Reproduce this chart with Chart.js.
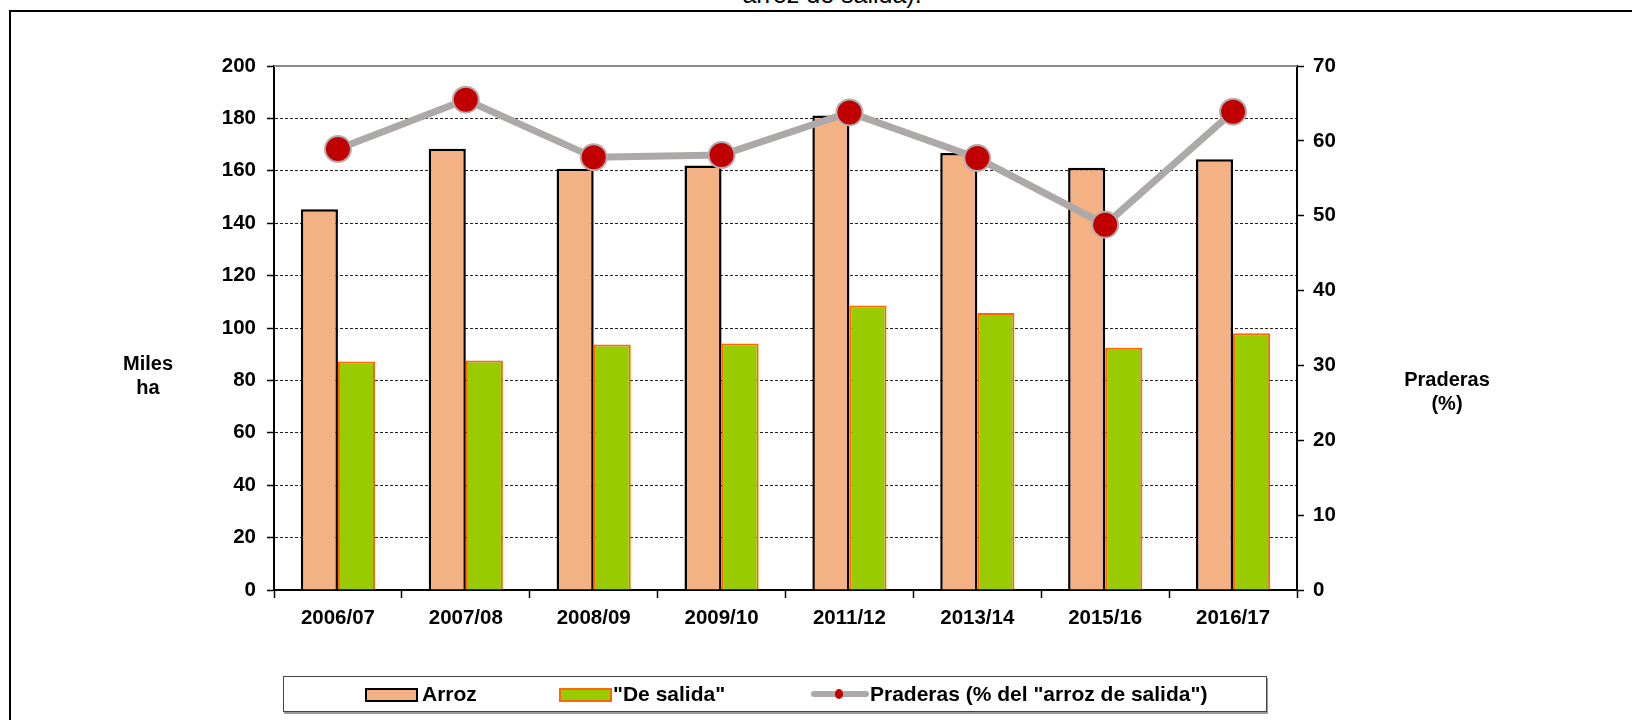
<!DOCTYPE html>
<html>
<head>
<meta charset="utf-8">
<script src="https://cdn.jsdelivr.net/npm/chart.js@4.4.1/dist/chart.umd.min.js"></script>
<style>
  body { margin: 0; background: #fff; font-family: "Liberation Sans", Arial, sans-serif; }
  #wrap { position: relative; width: 1632px; height: 720px; overflow: hidden; }
  #frame { position: absolute; left: 9px; top: 10px; width: 1700px; height: 800px; border-left: 2px solid #000; border-top: 2px solid #000; }
  #title { position: absolute; left: 0; width: 1664px; top: -18px; text-align: center; font-size: 25px; line-height: 25px; color: #000; }
  canvas { position: absolute; left: 0; top: 0; }
  .atitle { position: absolute; font-weight: bold; font-size: 20px; line-height: 24px; text-align: center; color: #000; }
  #legend { position: absolute; left: 283px; top: 676px; width: 982px; height: 34px; border: 1px solid #444; box-shadow: 1px 2px 0 #999; background: #fff; }
  .lg { position: absolute; top: 0; height: 34px; line-height: 34px; font-weight: bold; font-size: 21px; color: #000; }
  .sw { position: absolute; top: 11px; height: 10px; }
</style>
</head>
<body>
<div id="wrap">
  <div id="frame"></div>
  <div id="title">arroz de salida).</div>
  <canvas id="chart" width="1632" height="720"></canvas>
  <div class="atitle" style="left:98px; top:351px; width:100px;">Miles<br>ha</div>
  <div class="atitle" style="left:1387px; top:367px; width:120px;">Praderas<br>(%)</div>
  <div id="legend"></div>
</div>
<script>
let campaigns = ["2006/07", "2007/08", "2008/09", "2009/10", "2011/12", "2013/14", "2015/16", "2016/17"]
let arroz = [145.3, 168.4, 160.8, 162.0, 181.1, 166.8, 161.2, 164.4]
let de_salida = [87.2, 87.6, 93.7, 94.1, 108.6, 105.7, 92.5, 98.0]
let praderas = [58.9, 65.5, 57.8, 58.1, 63.8, 57.7, 48.8, 63.9]
let left_ticks = [0, 200, 20]
let right_ticks = [0, 70, 10]

let font = { family: "'Liberation Sans', Arial, sans-serif", size: 20.5, weight: 'bold' }

// solid grey line along the top of the plot area
let topLine = {
    id: 'topLine',
    beforeDatasetsDraw(chart) {
        let a = chart.chartArea
        let ctx = chart.ctx
        ctx.save()
        ctx.strokeStyle = '#8a8a8a'
        ctx.lineWidth = 2
        ctx.beginPath()
        ctx.moveTo(a.left, a.top)
        ctx.lineTo(a.right, a.top)
        ctx.stroke()
        ctx.restore()
    }
}

let chart = new Chart(document.getElementById("chart").getContext('2d'), {
    type: 'bar',
    data: {
        labels: campaigns,
        datasets: [{
            label: 'Arroz',
            data: arroz,
            backgroundColor: '#F4B183',
            borderColor: '#000000',
            borderWidth: 2.5,
            order: 1,
            yAxisID: 'y'
        }, {
            label: '"De salida"',
            data: de_salida,
            backgroundColor: '#99CC00',
            borderColor: '#FF6600',
            borderWidth: 2,
            order: 2,
            yAxisID: 'y'
        }, {
            type: 'line',
            label: 'Praderas (% del "arroz de salida")',
            data: praderas,
            borderColor: '#ADA9A9',
            borderWidth: 7,
            pointBackgroundColor: '#C00000',
            pointBorderColor: '#B5ADAD',
            pointBorderWidth: 2,
            pointRadius: 13,
            tension: 0,
            order: 0,
            yAxisID: 'y1'
        }]
    },
    options: {
        responsive: false,
        animation: false,
        layout: { padding: { top: 66, left: 0, right: 0, bottom: 0 } },
        datasets: { bar: { categoryPercentage: 0.58, barPercentage: 1 } },
        plugins: { legend: { display: false }, tooltip: { enabled: false } },
        scales: {
            x: {
                ticks: { font: font, color: '#000', padding: 8, maxRotation: 0 },
                grid: { drawOnChartArea: false, tickLength: 8, tickColor: '#000', tickWidth: 1.5, offset: true },
                border: { color: '#000', width: 2 },
                afterFit(scale) { scale.height = 130 }
            },
            y: {
                position: 'left',
                min: left_ticks[0],
                max: left_ticks[1],
                ticks: { stepSize: left_ticks[2], font: font, color: '#000', padding: 11 },
                grid: { color: '#222', lineWidth: 1, tickLength: 7, tickColor: '#000', tickWidth: 1.5, tickBorderDash: [] },
                border: { color: '#000', width: 2, dash: [3, 2] },
                afterFit(scale) { scale.width = 274 }
            },
            y1: {
                position: 'right',
                min: right_ticks[0],
                max: right_ticks[1],
                ticks: { stepSize: right_ticks[2], font: font, color: '#000', padding: 9 },
                grid: { drawOnChartArea: false, tickLength: 7, tickColor: '#000', tickWidth: 1.5 },
                border: { color: '#000', width: 2 },
                afterFit(scale) { scale.width = 1632 - 1297 }
            }
        }
    },
    plugins: [topLine]
})

// legend box built from the dataset styles
let legend = document.getElementById("legend")
let ds = chart.data.datasets
let items = [
    { sw: 81, text: 138, kind: 'bar', d: ds[0] },
    { sw: 275, text: 329, kind: 'bar', d: ds[1] },
    { sw: 527, text: 586, kind: 'line', d: ds[2] }
]
items.forEach(function (it) {
    if (it.kind == 'bar') {
        let s = document.createElement("div")
        s.className = "sw"
        s.style.left = it.sw + "px"
        s.style.width = "49px"
        s.style.background = it.d.backgroundColor
        s.style.border = "2px solid " + it.d.borderColor
        legend.appendChild(s)
    } else {
        let l = document.createElement("div")
        l.style.position = "absolute"
        l.style.left = it.sw + "px"
        l.style.top = "14px"
        l.style.width = "58px"
        l.style.height = "6px"
        l.style.borderRadius = "3px"
        l.style.background = it.d.borderColor
        legend.appendChild(l)
        let p = document.createElement("div")
        p.style.position = "absolute"
        p.style.left = (it.sw + 24) + "px"
        p.style.top = "12px"
        p.style.width = "8px"
        p.style.height = "10px"
        p.style.borderRadius = "50%"
        p.style.background = it.d.pointBackgroundColor
        legend.appendChild(p)
    }
    let t = document.createElement("div")
    t.className = "lg"
    t.style.left = it.text + "px"
    t.innerText = it.d.label
    legend.appendChild(t)
})
</script>
</body>
</html>
